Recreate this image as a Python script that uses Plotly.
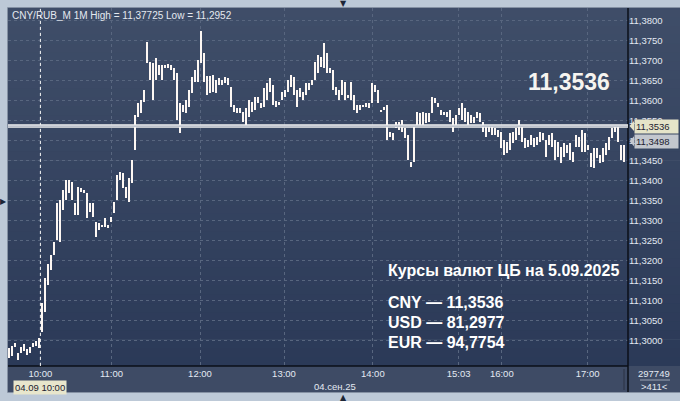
import plotly.graph_objects as go

# 1-minute CNY/RUB bars, condensed (high / low per bar)
bar_high = [
    11.2981, 11.2986, 11.2994, 11.2969, 11.2984, 11.2991, 11.2979, 11.2984, 11.2994, 11.2999,
    11.3006, 11.3094, 11.3156, 11.3191, 11.3214, 11.3246, 11.3344, 11.3351, 11.3376, 11.3401,
    11.3401, 11.3396, 11.3344, 11.3384, 11.3381, 11.3376, 11.3369, 11.3344, 11.3344, 11.3296,
    11.3294, 11.3289, 11.3306, 11.3289, 11.3309, 11.3346, 11.3414, 11.3421, 11.3419, 11.3384,
    11.3406, 11.3451, 11.3564, 11.3594, 11.3601, 11.3626, 11.3746, 11.3696, 11.3694, 11.3706,
    11.3689, 11.3689, 11.3689, 11.3691, 11.3689, 11.3681, 11.3669, 11.3594, 11.3589, 11.3601,
    11.3626, 11.3659, 11.3676, 11.3701, 11.3773, 11.3719, 11.3661, 11.3661, 11.3664, 11.3651,
    11.3656, 11.3651, 11.3659, 11.3656, 11.3634, 11.3589, 11.3581, 11.3581, 11.3571, 11.3581,
    11.3601, 11.3596, 11.3609, 11.3609, 11.3594, 11.3631, 11.3644, 11.3656, 11.3639, 11.3599,
    11.3596, 11.3621, 11.3626, 11.3651, 11.3664, 11.3659, 11.3626, 11.3631, 11.3621, 11.3644,
    11.3644, 11.3651, 11.3696, 11.3714, 11.3709, 11.3744, 11.3719, 11.3681, 11.3676, 11.3634,
    11.3626, 11.3651, 11.3646, 11.3614, 11.3646, 11.3614, 11.3589, 11.3589, 11.3589, 11.3594,
    11.3594, 11.3644, 11.3639, 11.3626, 11.3576, 11.3584, 11.3589, 11.3521, 11.3519, 11.3546,
    11.3546, 11.3551, 11.3531, 11.3514, 11.3446, 11.3539, 11.3571, 11.3569, 11.3571, 11.3569,
    11.3569, 11.3609, 11.3606, 11.3594, 11.3576, 11.3571, 11.3571, 11.3576, 11.3556, 11.3564,
    11.3581, 11.3594, 11.3581, 11.3571, 11.3564, 11.3559, 11.3571, 11.3569, 11.3546, 11.3534,
    11.3534, 11.3534, 11.3531, 11.3526, 11.3521, 11.3501, 11.3496, 11.3519, 11.3521, 11.3531,
    11.3551, 11.3539, 11.3506, 11.3501, 11.3514, 11.3506, 11.3509, 11.3521, 11.3519, 11.3501,
    11.3514, 11.3519, 11.3501, 11.3496, 11.3484, 11.3494, 11.3489, 11.3494, 11.3471, 11.3514,
    11.3509, 11.3526, 11.3519, 11.3489, 11.3469, 11.3481, 11.3481, 11.3464, 11.3481, 11.3494,
    11.3509, 11.3531, 11.3539, 11.3534, 11.3489, 11.3489,
]
bar_low = [
    11.2956, 11.2961, 11.2984, 11.2952, 11.2969, 11.2974, 11.2964, 11.2969, 11.2984, 11.2986,
    11.2981, 11.3021, 11.3071, 11.3139, 11.3176, 11.3214, 11.3251, 11.3246, 11.3326, 11.3351,
    11.3369, 11.3351, 11.3314, 11.3314, 11.3371, 11.3369, 11.3306, 11.3321, 11.3309, 11.3259,
    11.3276, 11.3284, 11.3284, 11.3281, 11.3296, 11.3319, 11.3351, 11.3401, 11.3381, 11.3356,
    11.3346, 11.3394, 11.3476, 11.3559, 11.3569, 11.3596, 11.3694, 11.3651, 11.3601, 11.3651,
    11.3664, 11.3651, 11.3681, 11.3681, 11.3676, 11.3651, 11.3551, 11.3519, 11.3571, 11.3569,
    11.3584, 11.3619, 11.3646, 11.3646, 11.3694, 11.3646, 11.3614, 11.3619, 11.3621, 11.3619,
    11.3639, 11.3639, 11.3644, 11.3639, 11.3584, 11.3571, 11.3569, 11.3569, 11.3546, 11.3539,
    11.3559, 11.3571, 11.3576, 11.3594, 11.3581, 11.3584, 11.3601, 11.3621, 11.3589, 11.3584,
    11.3589, 11.3601, 11.3609, 11.3621, 11.3634, 11.3614, 11.3584, 11.3609, 11.3601, 11.3614,
    11.3626, 11.3639, 11.3651, 11.3669, 11.3684, 11.3681, 11.3669, 11.3669, 11.3626, 11.3614,
    11.3601, 11.3614, 11.3601, 11.3606, 11.3601, 11.3576, 11.3569, 11.3576, 11.3584, 11.3584,
    11.3581, 11.3594, 11.3621, 11.3594, 11.3571, 11.3576, 11.3501, 11.3509, 11.3501, 11.3531,
    11.3526, 11.3521, 11.3506, 11.3451, 11.3434, 11.3446, 11.3539, 11.3534, 11.3534, 11.3544,
    11.3546, 11.3569, 11.3594, 11.3584, 11.3564, 11.3564, 11.3559, 11.3546, 11.3521, 11.3539,
    11.3564, 11.3551, 11.3546, 11.3539, 11.3544, 11.3544, 11.3556, 11.3546, 11.3521, 11.3509,
    11.3521, 11.3514, 11.3514, 11.3509, 11.3481, 11.3464, 11.3469, 11.3476, 11.3494, 11.3501,
    11.3514, 11.3496, 11.3481, 11.3484, 11.3489, 11.3484, 11.3489, 11.3496, 11.3501, 11.3459,
    11.3489, 11.3484, 11.3451, 11.3459, 11.3444, 11.3459, 11.3469, 11.3451, 11.3446, 11.3484,
    11.3484, 11.3471, 11.3471, 11.3476, 11.3434, 11.3431, 11.3456, 11.3444, 11.3446, 11.3464,
    11.3476, 11.3506, 11.3521, 11.3496, 11.3451, 11.3446,
]

# time labels on the bar axis
tick_pos = [10.3, 34.0, 63.5, 91.5, 121.1, 149.7, 164.1, 192.7]
tick_text = ["10:00", "11:00", "12:00", "13:00", "14:00", "15:03", "16:00", "17:00"]

# price scale labels
price_ticks = [11.300, 11.305, 11.310, 11.315, 11.320, 11.325, 11.330, 11.335, 11.340,
               11.345, 11.350, 11.355, 11.360, 11.365, 11.370, 11.375, 11.380]

last_price = 11.3536
second_price = 11.3498

cb_codes = ["CNY", "USD", "EUR"]
cb_rates = [11.3536, 81.2977, 94.7754]


def fmt(v, d=4):
    return f"{v:.{d}f}".replace(".", ",")


FONT = "Liberation Sans, Arial, sans-serif"
W, H = 680, 401
ML, MR, MT, MB = 8, 52, 8, 35
PW, PH = W - ML - MR, H - MT - MB


def px(xp):
    return (xp - ML) / PW


def py(yp):
    return (H - MB - yp) / PH


idx = list(range(len(bar_high)))

fig = go.Figure()
fig.add_trace(go.Bar(
    x=idx,
    y=[h - l for h, l in zip(bar_high, bar_low)],
    base=bar_low,
    width=0.58,
    marker=dict(color="#fdf7f3", line=dict(width=0)),
    hoverinfo="skip",
))

shapes = []
# gradient background (plot area + price scale)
n = 40
top, bot = (63, 77, 104), (43, 58, 88)
for k in range(n):
    t = k / (n - 1)
    c = tuple(round(top[j] + (bot[j] - top[j]) * t) for j in range(3))
    shapes.append(dict(type="rect", xref="paper", yref="paper",
                       x0=0, x1=px(W), y0=1 - (k + 1) / n - 0.002, y1=1 - k / n,
                       fillcolor="rgb(%d,%d,%d)" % c, line_width=0, layer="below"))
# bottom time strip
shapes.append(dict(type="rect", xref="paper", yref="paper", x0=0, x1=px(W),
                   y0=py(392), y1=0, fillcolor="#3e4b65", line_width=0, layer="below"))
# frame border
shapes.append(dict(type="rect", xref="paper", yref="paper", x0=px(7.5), x1=px(W + 2),
                   y0=py(392.5), y1=py(7.5), line=dict(color="#8591a3", width=1)))
# axis lines
shapes.append(dict(type="line", xref="paper", yref="paper", x0=1, x1=1, y0=py(392), y1=py(8),
                   line=dict(color="#0b0f18", width=1.5)))
shapes.append(dict(type="line", xref="paper", yref="paper", x0=0, x1=1, y0=0, y1=0,
                   line=dict(color="#0b0f18", width=1.5)))
shapes.append(dict(type="line", xref="paper", yref="paper", x0=px(624), x1=px(624),
                   y0=py(390), y1=py(369), line=dict(color="#2a3345", width=1)))
shapes.append(dict(type="line", xref="paper", yref="paper", x0=px(640), x1=px(670),
                   y0=py(380), y1=py(380), line=dict(color="#9aa4b4", width=1)))
# cursor line at 10:00
shapes.append(dict(type="line", xref="x", yref="paper", x0=tick_pos[0], x1=tick_pos[0],
                   y0=0, y1=1, line=dict(color="#f4f4f4", width=1, dash="dot")))
# current price line
shapes.append(dict(type="line", xref="paper", yref="y", x0=0, x1=1, y0=last_price, y1=last_price,
                   line=dict(color="#f2f2f2", width=3.5)))
shapes.append(dict(type="line", xref="paper", yref="y", x0=0, x1=1, y0=last_price, y1=last_price,
                   line=dict(color="#9ea6b6", width=1)))
# price tag arrows
for val, col in [(last_price, "#e5e4c9"), (second_price, "#c3c7ce")]:
    d = 5 * 0.00025
    shapes.append(dict(type="path", xref="paper", yref="y",
                       path=f"M {px(634)},{val + d} L {px(629.5)},{val} L {px(634)},{val - d} Z",
                       fillcolor=col, line_width=0))

ann = []
ann.append(dict(text="CNY/RUB_M 1M High = 11,37725 Low = 11,2952", xref="paper", yref="paper",
                x=px(10), y=py(8), xanchor="left", yanchor="top", showarrow=False,
                font=dict(family=FONT, size=10, color="#e4e9f0")))
ann.append(dict(text="<b>%s</b>" % fmt(last_price), xref="paper", yref="paper",
                x=px(569), y=py(82), xanchor="center", yanchor="middle", showarrow=False,
                font=dict(family=FONT, size=23, color="#f6f4f0")))
ann.append(dict(text="<b>Курсы валют ЦБ на 5.09.2025</b>", xref="paper", yref="paper",
                x=px(386), y=py(270), xanchor="left", yanchor="middle", showarrow=False,
                font=dict(family=FONT, size=16, color="#ffffff")))
for k, (code, rate) in enumerate(zip(cb_codes, cb_rates)):
    ann.append(dict(text="<b>%s — %s</b>" % (code, fmt(rate)), xref="paper", yref="paper",
                    x=px(386), y=py(302 + 20 * k), xanchor="left", yanchor="middle",
                    showarrow=False, font=dict(family=FONT, size=16, color="#ffffff")))
for val, col in [(last_price, "#e5e4c9"), (second_price, "#c3c7ce")]:
    ann.append(dict(text=fmt(val), xref="paper", yref="y", x=px(634), y=val,
                    xanchor="left", yanchor="middle", showarrow=False, bgcolor=col,
                    width=41, align="left", borderpad=1,
                    font=dict(family=FONT, size=9.5, color="#1c2230")))
ann.append(dict(text="04.09 10:00", xref="x", yref="paper", x=tick_pos[0], y=py(387),
                xanchor="center", yanchor="middle", showarrow=False, bgcolor="#e8e6cc",
                borderpad=1, font=dict(family=FONT, size=9.5, color="#1c2230")))
ann.append(dict(text="04.сен.25", xref="paper", yref="paper", x=px(335), y=py(386),
                xanchor="center", yanchor="middle", showarrow=False,
                font=dict(family=FONT, size=9.5, color="#e3e9f2")))
ann.append(dict(text="297749", xref="paper", yref="paper", x=px(654), y=py(373),
                xanchor="center", yanchor="middle", showarrow=False,
                font=dict(family=FONT, size=9.5, color="#e3e9f2")))
ann.append(dict(text="&gt;411&lt;", xref="paper", yref="paper", x=px(654), y=py(386.5),
                xanchor="center", yanchor="middle", showarrow=False,
                font=dict(family=FONT, size=9.5, color="#e3e9f2")))
for t, xx, yy in [("▼", 343, 3), ("▶", 3.5, 201), ("▲", 343, 398)]:
    ann.append(dict(text=t, xref="paper", yref="paper", x=px(xx), y=py(yy),
                    xanchor="center", yanchor="middle", showarrow=False,
                    font=dict(family="DejaVu Sans", size=8, color="#1d2636")))

fig.update_layout(
    width=W, height=H,
    margin=dict(l=ML, r=MR, t=MT, b=MB),
    paper_bgcolor="#bdc9d7",
    plot_bgcolor="rgba(0,0,0,0)",
    showlegend=False,
    bargap=0,
    separators=", ",
    shapes=shapes,
    annotations=ann,
    font=dict(family=FONT, size=9.5, color="#e3e9f2"),
    xaxis=dict(range=[-0.5, 206.17], tickmode="array", tickvals=tick_pos, ticktext=tick_text,
               showgrid=True, gridcolor="#58667f", griddash="3px,3px", gridwidth=1,
               zeroline=False, showline=False, ticks="",
               tickfont=dict(family=FONT, size=9.5, color="#e3e9f2")),
    yaxis=dict(range=[11.29363, 11.38313], side="right", tickmode="array",
               tickvals=price_ticks, ticktext=[fmt(v) for v in price_ticks],
               showgrid=True, gridcolor="#58667f", griddash="3px,3px",
               gridwidth=1, zeroline=False, showline=False, ticks="",
               tickfont=dict(family=FONT, size=9.5, color="#e3e9f2")),
)

# remove the default page margin so the figure sits at the window's corner
fig.write_html("out.html", config={"displayModeBar": False},
               post_script="document.body.style.margin='0';")
